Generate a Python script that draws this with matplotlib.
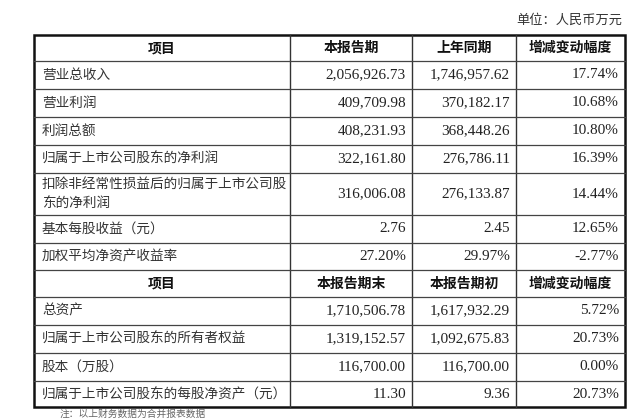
import matplotlib
matplotlib.use("Agg")
import matplotlib.pyplot as plt

unit = "单位：人民币万元"
header1 = ["项目", "本报告期", "上年同期", "增减变动幅度"]
items1 = ["营业总收入", "营业利润", "利润总额", "归属于上市公司股东的净利润",
          "扣除非经常性损益后的归属于上市公司股\n东的净利润", "基本每股收益（元）", "加权平均净资产收益率"]
cur1 = ["2,056,926.73", "409,709.98", "408,231.93", "322,161.80", "316,006.08", "2.76", "27.20%"]
prev1 = ["1,746,957.62", "370,182.17", "368,448.26", "276,786.11", "276,133.87", "2.45", "29.97%"]
chg1 = ["17.74%", "10.68%", "10.80%", "16.39%", "14.44%", "12.65%", "-2.77%"]
header2 = ["项目", "本报告期末", "本报告期初", "增减变动幅度"]
items2 = ["总资产", "归属于上市公司股东的所有者权益", "股本（万股）", "归属于上市公司股东的每股净资产（元）"]
cur2 = ["1,710,506.78", "1,319,152.57", "116,700.00", "11.30"]
prev2 = ["1,617,932.29", "1,092,675.83", "116,700.00", "9.36"]
chg2 = ["5.72%", "20.73%", "0.00%", "20.73%"]

cjk = ['Noto Sans CJK SC', 'DejaVu Sans']
num = ['Liberation Serif']

fig = plt.figure(figsize=(6.4, 4.2), dpi=100)
ax = fig.add_axes([0, 0, 1, 1])
ax.set_xlim(0, 640); ax.set_ylim(420, 0); ax.axis('off')

cols = [34, 290, 412, 516, 625]
rows = [35, 61, 89, 117, 145, 173, 215, 243, 270, 297, 325, 353, 381, 407]

ax.text(622, 20, unit, ha='right', va='center', fontsize=9.5, family=cjk, color='#333')

for x in cols[1:-1]:
    ax.plot([x, x], [rows[0], rows[-1]], color='#333', lw=1)
for y in rows[1:-1]:
    ax.plot([cols[0], cols[-1]], [y, y], color='#444', lw=0.9)
ax.add_patch(plt.Rectangle((cols[0], rows[0]), cols[-1]-cols[0], rows[-1]-rows[0],
                           fill=False, ec='#111', lw=1.8))

def header(r, hdr):
    yc = (rows[r] + rows[r+1]) / 2
    for i, h in enumerate(hdr):
        ax.text((cols[i]+cols[i+1])/2, yc, h, ha='center', va='center', fontsize=10,
                family=cjk, weight='bold', color='#111')

def body(r0, items, a, b, c):
    for k in range(len(items)):
        yc = (rows[r0+k] + rows[r0+k+1]) / 2
        ax.text(cols[0]+8, yc, items[k], ha='left', va='center', fontsize=9.8,
                family=cjk, color='#333', linespacing=1.5)
        for j, v in enumerate([a[k], b[k], c[k]]):
            ax.text(cols[j+2]-6, yc, v, ha='right', va='center', fontsize=11,
                    family=num, color='#222')

header(0, header1)
body(1, items1, cur1, prev1, chg1)
header(8, header2)
body(9, items2, cur2, prev2, chg2)

ax.text(60, 414, "注：以上财务数据为合并报表数据", ha='left', va='center', fontsize=7,
        family=cjk, color='#666')

fig.savefig("out.png", dpi=100)
